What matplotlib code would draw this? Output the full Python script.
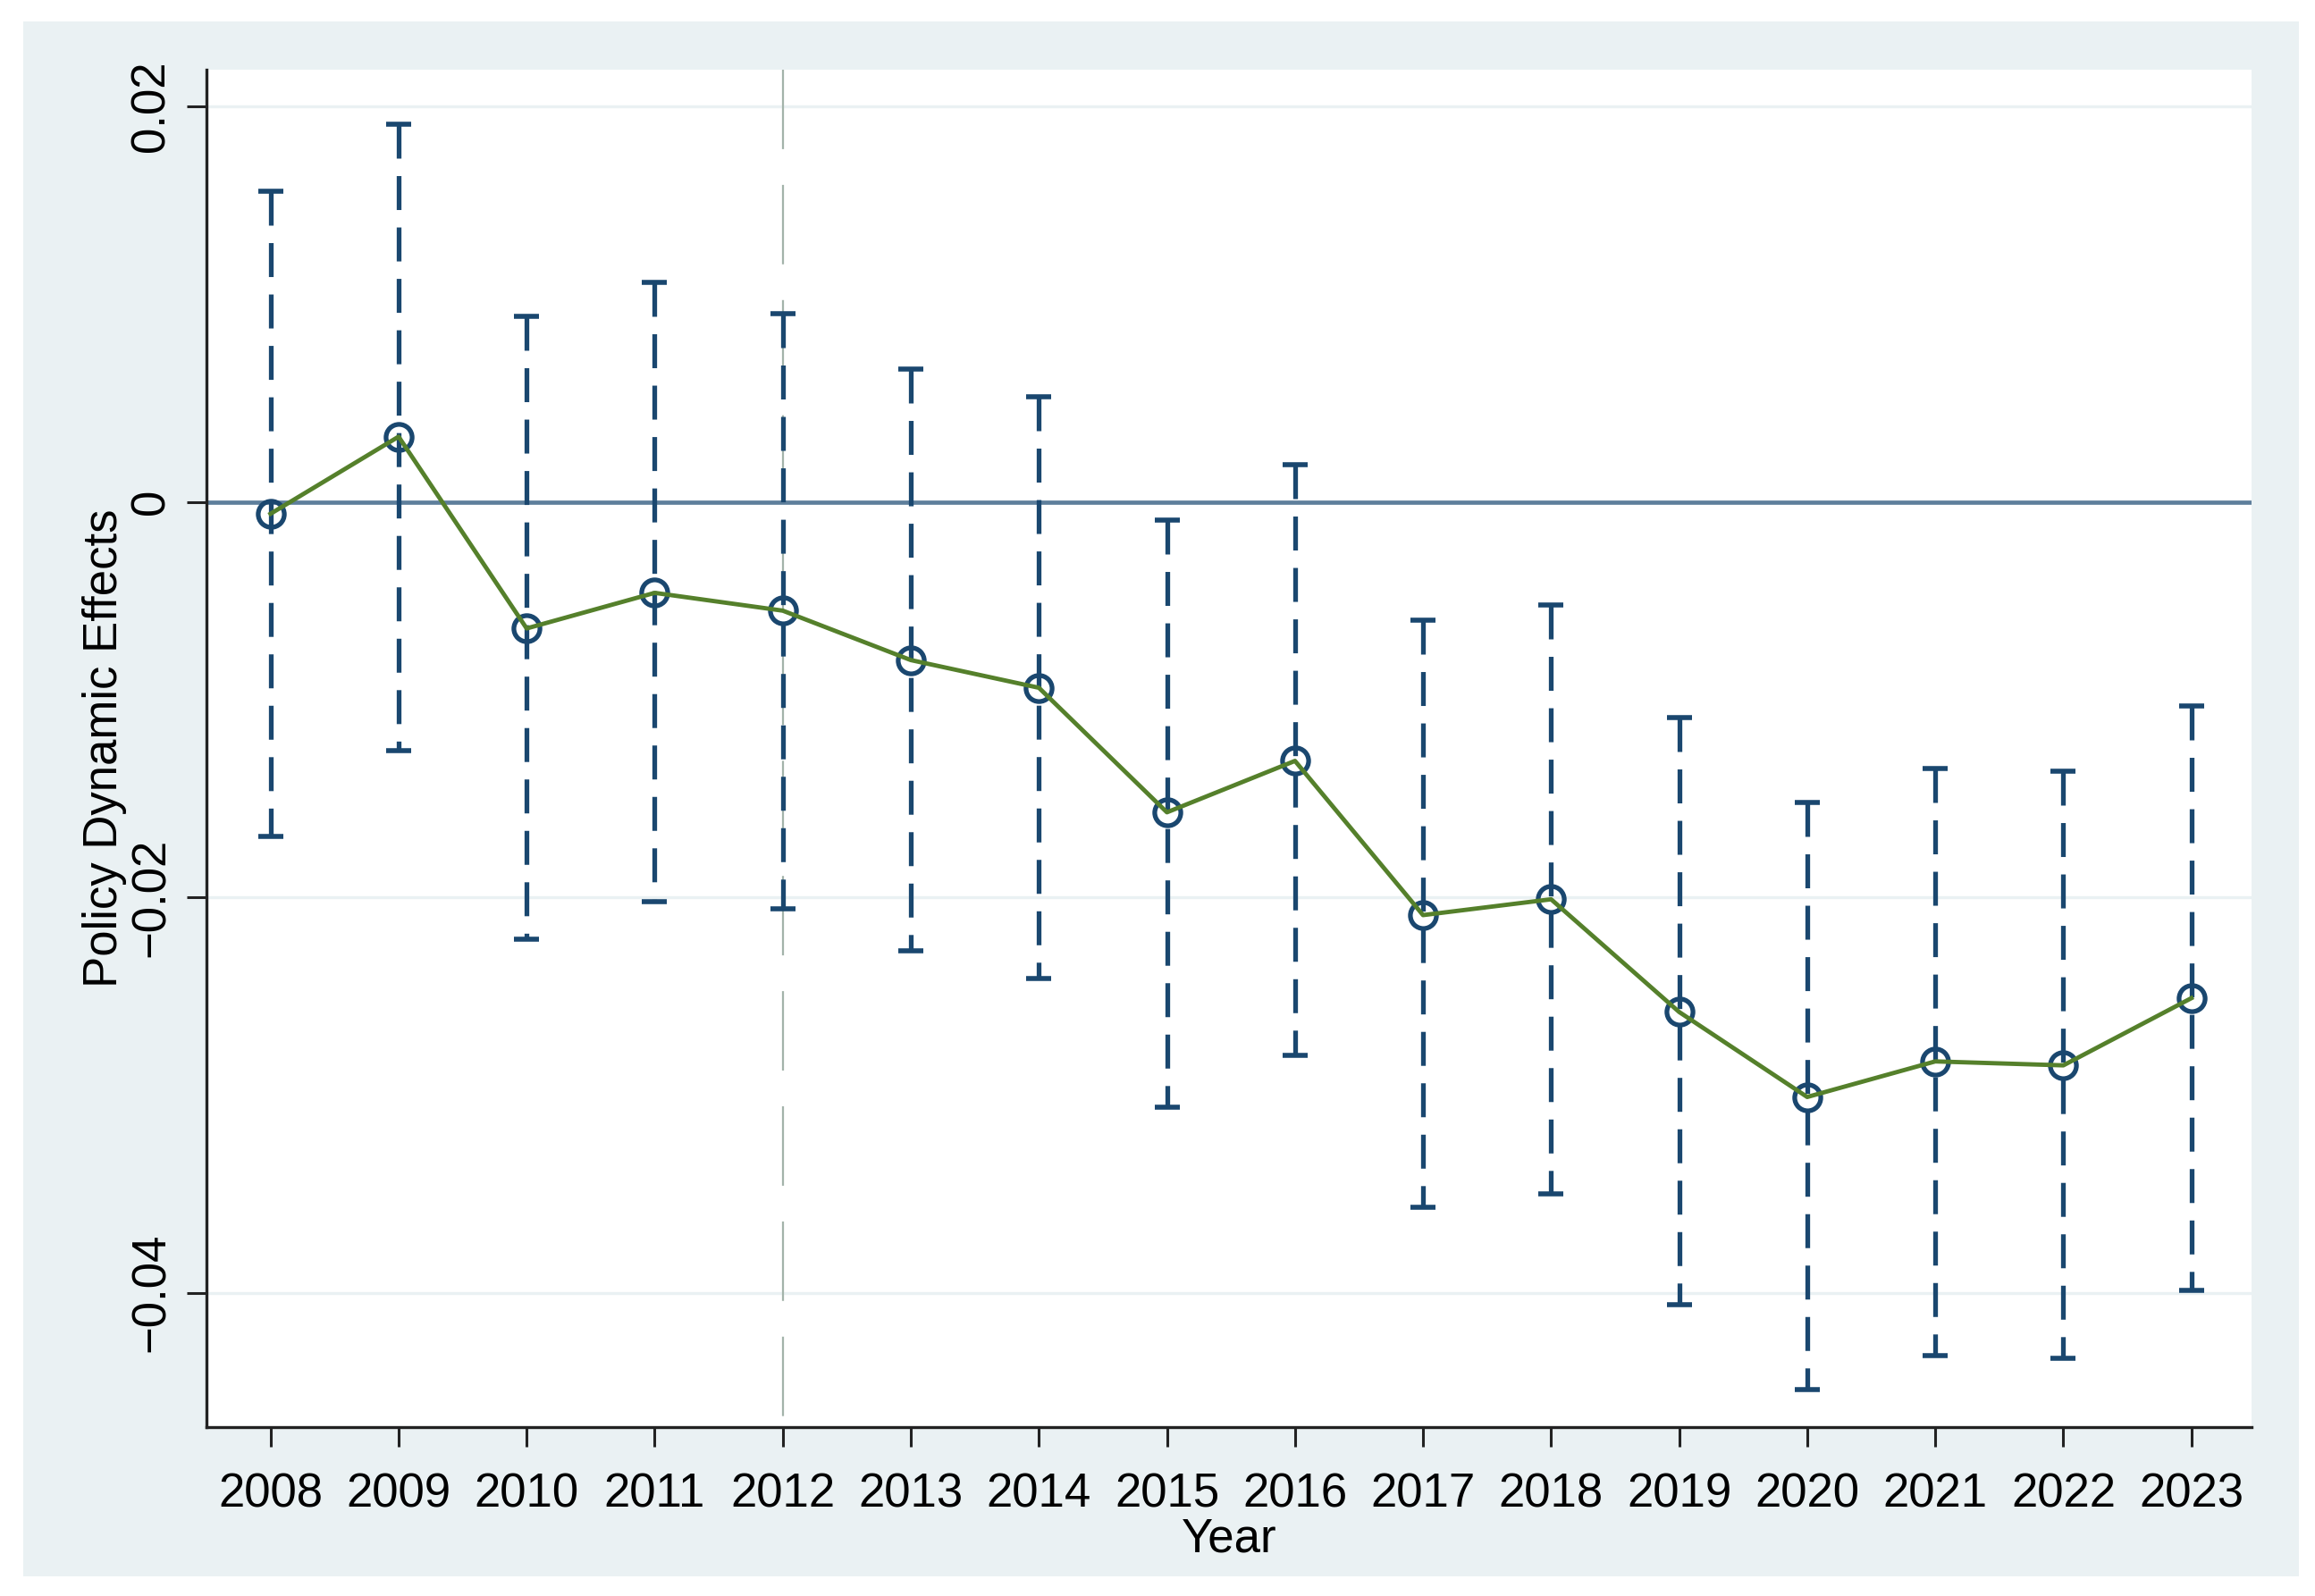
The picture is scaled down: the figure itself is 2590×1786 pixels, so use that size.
import matplotlib.pyplot as plt
from matplotlib.patches import Rectangle
from matplotlib.ticker import FixedLocator, FixedFormatter

# event-study estimates
years = [2008, 2009, 2010, 2011, 2012, 2013, 2014, 2015,
         2016, 2017, 2018, 2019, 2020, 2021, 2022, 2023]
coef = [-0.0006, 0.0033, -0.0064, -0.0046, -0.0055, -0.0080, -0.0094, -0.0157,
        -0.0131, -0.0209, -0.0201, -0.0258, -0.0301, -0.0283, -0.0285, -0.0251]
upper = [0.0157, 0.0191, 0.0094, 0.0111, 0.0095, 0.0067, 0.0053, -0.0009,
         0.0019, -0.0060, -0.0052, -0.0109, -0.0152, -0.0135, -0.0136, -0.0103]
lower = [-0.0169, -0.0126, -0.0221, -0.0202, -0.0206, -0.0227, -0.0241, -0.0306,
         -0.0280, -0.0357, -0.0350, -0.0406, -0.0449, -0.0432, -0.0433, -0.0399]
policy_year = 2012

yticks = [0.02, 0, -0.02, -0.04]
ytick_labels = ["0.02", "0", "\u22120.02", "\u22120.04"]

navy = "#1A476F"
green = "#55802B"
bg = "#EAF1F3"

plt.rcParams["font.family"] = ["Liberation Sans", "DejaVu Sans"]

fig = plt.figure(figsize=(25.9, 17.86), dpi=100)
fig.patch.set_facecolor("white")
fig.patches.append(Rectangle((0.010, 0.0123), 0.983, 0.9743, transform=fig.transFigure,
                             facecolor=bg, edgecolor="none", zorder=-10))

ax = fig.add_axes([0.0892, 0.1058, 0.8834, 0.8505])
ax.set_zorder(5)
ax.set_facecolor("white")

# grid + reference lines
for t in yticks:
    if t != 0:
        ax.axhline(t, color=bg, lw=2.4, zorder=1)
# dashed policy line, dash pattern starting at the top
ax.axvline(policy_year, ymin=1, ymax=0, color="#A3B3AA", lw=1.6, dashes=(40, 18), zorder=2)
ax.axhline(0, color="#5E7F9C", lw=3.4, zorder=2)

# confidence intervals, dashed from the top cap down
for x, hi, lo in zip(years, upper, lower):
    ax.plot([x, x], [hi, lo], color=navy, lw=3.8, dashes=(7.2, 3.7), zorder=3)
ax.plot(years, upper, ls="none", marker="_", ms=20, mew=4, color=navy, zorder=3)
ax.plot(years, lower, ls="none", marker="_", ms=20, mew=4, color=navy, zorder=3)

ax.plot(years, coef, ls="none", marker="o", ms=21, mfc="none", mec=navy, mew=3.8, zorder=4)
ax.plot(years, coef, color=green, lw=3.5, zorder=5)

ax.set_xlim(2007.5, 2023.47)
ax.set_ylim(-0.0468, 0.02186)

ax.set_xticks(years)
ax.set_xticklabels([str(y) for y in years])
ax.yaxis.set_major_locator(FixedLocator(yticks))
ax.yaxis.set_major_formatter(FixedFormatter(ytick_labels))

for s in ["top", "right"]:
    ax.spines[s].set_visible(False)
for s in ["left", "bottom"]:
    ax.spines[s].set_linewidth(2.4)
    ax.spines[s].set_color("#222222")

ax.tick_params(axis="both", length=16, width=2.2, color="#222222", labelsize=38)
ax.tick_params(axis="x", pad=20)
ax.tick_params(axis="y", labelrotation=90, pad=10)
for lab in ax.get_yticklabels():
    lab.set_va("center")

ax.set_xlabel("Year", fontsize=38, labelpad=0)
ax.set_ylabel("Policy Dynamic Effects", fontsize=38, labelpad=2)

fig.savefig("out.png", dpi=100)
